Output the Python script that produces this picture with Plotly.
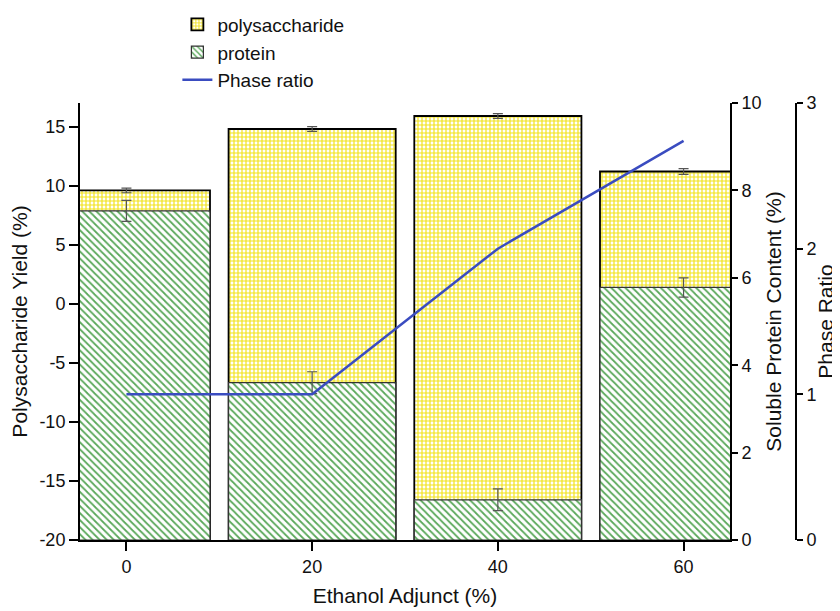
import plotly.graph_objects as go

ethanol = [0, 20, 40, 60]
polysaccharide = [9.6, 14.8, 15.9, 11.2]
polysaccharide_err = [0.2, 0.2, 0.2, 0.25]
protein = [7.53, 3.6, 0.92, 5.78]
protein_err = [0.24, 0.25, 0.25, 0.22]
phase_ratio = [1.0, 1.0, 2.0, 2.74]

x_ticks = [0, 20, 40, 60]
left_ticks = [-20, -15, -10, -5, 0, 5, 10, 15]
left_tick_text = ["-20", "-15", "-10", "-5", "0", "5", "10", "15"]
protein_ticks = [0, 2, 4, 6, 8, 10]
phase_ticks = [0, 1, 2, 3]

LEFT_BASE = -20
FONT = "Liberation Sans, Arial, sans-serif"

fig = go.Figure()

fig.add_trace(go.Bar(
    x=ethanol,
    y=[v - LEFT_BASE for v in polysaccharide],
    base=LEFT_BASE,
    width=18,
    name="polysaccharide",
    marker=dict(
        color="white",
        line=dict(color="black", width=1.8),
        pattern=dict(shape="+", fgcolor="#f2e21c", bgcolor="white",
                     size=4, solidity=0.5, fillmode="replace"),
    ),
    error_y=dict(type="data", array=polysaccharide_err, color="#555555",
                 thickness=1.2, width=5),
    yaxis="y",
))

fig.add_trace(go.Bar(
    x=ethanol,
    y=protein,
    width=18,
    name="protein",
    marker=dict(
        color="white",
        line=dict(color="#333333", width=1.2),
        pattern=dict(shape="\\", fgcolor="#5aa85a", bgcolor="white",
                     size=5, solidity=0.35, fillmode="replace"),
    ),
    error_y=dict(type="data", array=protein_err, color="#555555",
                 thickness=1.2, width=5),
    yaxis="y2",
))

fig.add_trace(go.Scatter(
    x=ethanol,
    y=phase_ratio,
    mode="lines",
    name="Phase ratio",
    line=dict(color="#3a4cc0", width=2.5),
    yaxis="y3",
))

axis_common = dict(
    showline=True, linecolor="black", linewidth=2, ticks="outside",
    tickcolor="black", tickwidth=2, showgrid=False, zeroline=False,
    automargin=False,
    tickfont=dict(size=18, color="#111111", family=FONT),
)

fig.update_layout(
    width=832, height=603,
    margin=dict(l=72, r=44, t=95, b=71, autoexpand=False),
    paper_bgcolor="white", plot_bgcolor="white",
    barmode="overlay",
    font=dict(family=FONT, color="#111111"),
    xaxis=dict(
        domain=[0, 650 / 716], range=[-5, 65], tickvals=x_ticks, ticklen=9,
        title=dict(text="Ethanol Adjunct (%)", font=dict(size=21), standoff=13),
        **axis_common,
    ),
    yaxis=dict(
        range=[-20, 17], tickvals=left_ticks, ticktext=left_tick_text, ticklen=9,
        title=dict(text="Polysaccharide Yield (%)", font=dict(size=21), standoff=11),
        **axis_common,
    ),
    yaxis2=dict(
        overlaying="y", side="right", anchor="x", range=[0, 10],
        tickvals=protein_ticks, ticklen=6,
        title=dict(text="Soluble Protein Content (%)", font=dict(size=21), standoff=6),
        **axis_common,
    ),
    yaxis3=dict(
        overlaying="y", side="right", anchor="free", position=1.0,
        range=[0, 3], tickvals=phase_ticks, ticklen=6,
        title=dict(text="Phase Ratio", font=dict(size=21), standoff=2),
        **axis_common,
    ),
    legend=dict(
        x=0.136, y=1.223, xanchor="left", yanchor="top",
        font=dict(size=19, family=FONT, color="#111111"),
        bgcolor="rgba(0,0,0,0)", tracegroupgap=0,
    ),
    showlegend=True,
)

fig.write_html("out.html")
